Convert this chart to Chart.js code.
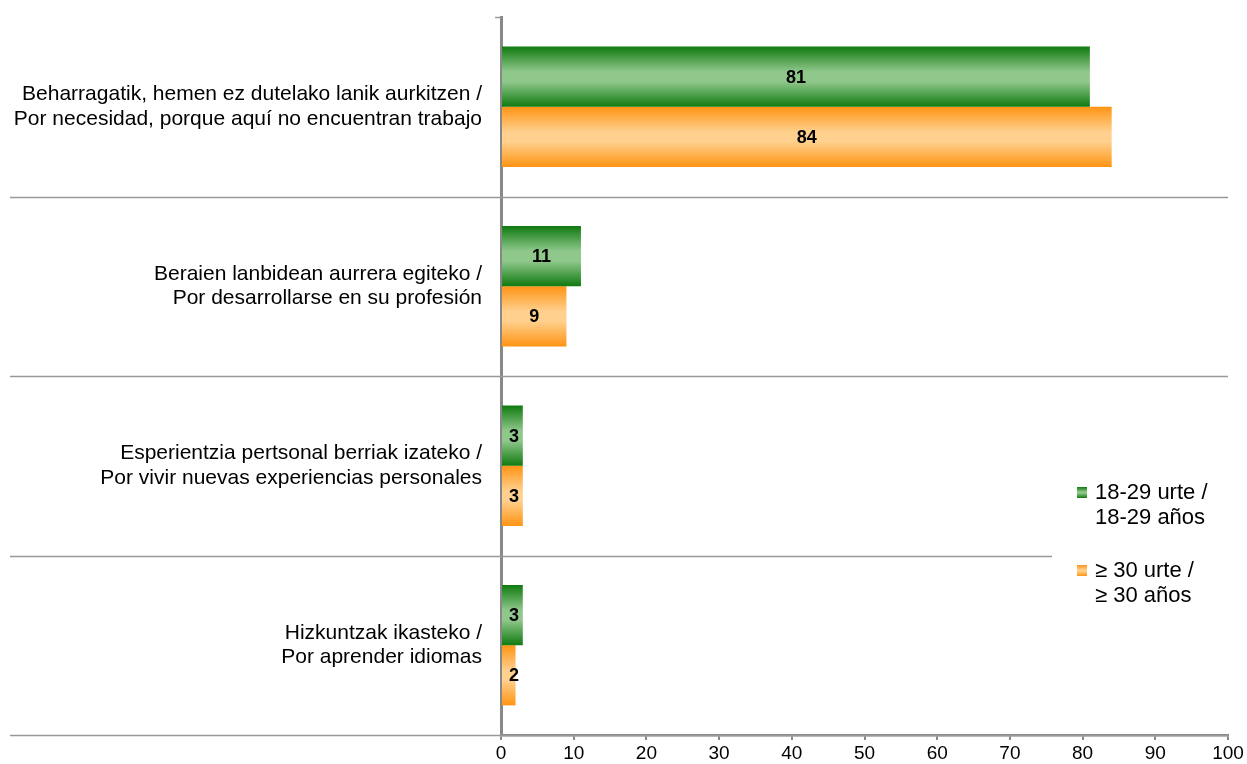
<!DOCTYPE html>
<html><head><meta charset="utf-8">
<script src="https://cdn.jsdelivr.net/npm/chart.js@4.4.1/dist/chart.umd.min.js"></script>
<style>
html,body{margin:0;padding:0;background:#fff;}
#wrap{position:relative;width:1247px;height:764px;}
#legend{position:absolute;left:1077px;top:479px;font-family:"Liberation Sans",Arial,sans-serif;font-size:22px;color:#000;line-height:25px;background:#fff;}
.item{position:relative;padding-left:18px;margin-bottom:28px;}
.sw{position:absolute;left:0;top:8px;width:10px;height:11px;}
</style></head>
<body><div id="wrap"><canvas id="c" width="1247" height="764"></canvas>
<div id="legend"></div></div>
<script>
const categories = [
  ["Beharragatik, hemen ez dutelako lanik aurkitzen /","Por necesidad, porque aquí no encuentran trabajo"],
  ["Beraien lanbidean aurrera egiteko /","Por desarrollarse en su profesión"],
  ["Esperientzia pertsonal berriak izateko /","Por vivir nuevas experiencias personales"],
  ["Hizkuntzak ikasteko /","Por aprender idiomas"]
];
const seriesNames = [["18-29 urte /","18-29 años"],["≥ 30 urte /","≥ 30 años"]];
const young = [81, 11, 3, 3];
const older = [84, 9, 3, 2];
const xTicks = [0,10,20,30,40,50,60,70,80,90,100];

const palettes = [
  {dark:'#107a10', light:'#90c88c'},
  {dark:'#ff9414', light:'#ffd08e'}
];
const CAT_PCT = 0.67;
const FONT = '"Liberation Sans", Arial, sans-serif';

function barGradient(ctx, dsIndex){
  const chart = ctx.chart;
  const y = chart.scales && chart.scales.y;
  const p = palettes[dsIndex];
  if(!y || !chart.chartArea || ctx.dataIndex === undefined) return p.light;
  const c = y.getPixelForValue(ctx.dataIndex);
  const w = Math.abs(y.getPixelForValue(1) - y.getPixelForValue(0)) * CAT_PCT / 2;
  const top = dsIndex === 0 ? c - w : c;
  const bot = top + w;
  const g = chart.ctx.createLinearGradient(0, top, 0, bot);
  g.addColorStop(0, p.dark);
  g.addColorStop(0.42, p.light);
  g.addColorStop(0.58, p.light);
  g.addColorStop(1, p.dark);
  return g;
}

const separators = {
  id:'separators',
  afterDraw(chart){
    const {ctx, chartArea, scales:{y}} = chart;
    ctx.save();
    ctx.strokeStyle = '#999';
    ctx.lineWidth = 1.5;
    const n = categories.length;
    for(let i=0;i<=n;i++){
      const yy = i===0 ? chartArea.top : (i===n ? chartArea.bottom : (y.getPixelForValue(i-1)+y.getPixelForValue(i))/2);
      let x0 = 10, x1 = chartArea.right;
      if(i===0){ x0 = chartArea.left - 6; x1 = chartArea.left; }
      if(i===3){ x1 = 1052; }
      ctx.beginPath(); ctx.moveTo(x0, Math.round(yy)+0.5); ctx.lineTo(x1, Math.round(yy)+0.5); ctx.stroke();
    }
    ctx.restore();
  }
};

const valueLabels = {
  id:'valueLabels',
  afterDatasetsDraw(chart){
    const ctx = chart.ctx;
    ctx.save();
    ctx.font = 'bold 18px ' + FONT;
    ctx.fillStyle = '#000';
    ctx.textAlign = 'center';
    ctx.textBaseline = 'middle';
    chart.data.datasets.forEach((ds, di)=>{
      chart.getDatasetMeta(di).data.forEach((el, i)=>{
        const cx = (el.x + el.base)/2;
        ctx.fillText(String(ds.data[i]), Math.max(cx, el.base+12), el.y+1);
      });
    });
    ctx.restore();
  }
};

new Chart(document.getElementById('c'), {
  type:'bar',
  data:{
    labels: categories,
    datasets:[
      {label: seriesNames[0].join(' '), data: young, backgroundColor: c=>barGradient(c,0), borderWidth:0, categoryPercentage:CAT_PCT, barPercentage:1},
      {label: seriesNames[1].join(' '), data: older, backgroundColor: c=>barGradient(c,1), borderWidth:0, categoryPercentage:CAT_PCT, barPercentage:1}
    ]
  },
  options:{
    indexAxis:'y',
    responsive:false,
    animation:false,
    layout:{padding:{left:0,right:19,top:17,bottom:0}},
    plugins:{legend:{display:false}, tooltip:{enabled:false}},
    scales:{
      x:{
        min:0, max:100,
        afterBuildTicks(s){ s.ticks = xTicks.map(v=>({value:v})); },
        afterFit(s){ s.height = 29; s.paddingLeft = 0; s.paddingRight = 0; },
        grid:{drawOnChartArea:false, drawTicks:true, tickLength:5, color:'#888', lineWidth:2},
        border:{display:true, color:'#888', width:2.5},
        ticks:{color:'#000', padding:2, font:{family:FONT, size:19}, maxRotation:0}
      },
      y:{
        afterFit(s){ s.width = 501; s.paddingTop = 0; s.paddingBottom = 0; },
        grid:{display:false},
        border:{display:true, color:'#888', width:3},
        ticks:{color:'#000', padding:11, font:{family:FONT, size:21, lineHeight:1.15}}
      }
    }
  },
  plugins:[separators, valueLabels]
});

const leg = document.getElementById('legend');
seriesNames.forEach((lines, i)=>{
  const d = document.createElement('div'); d.className='item';
  const sw = document.createElement('span'); sw.className='sw';
  sw.style.background = `linear-gradient(${palettes[i].dark}, ${palettes[i].light} 45%, ${palettes[i].light} 55%, ${palettes[i].dark})`;
  d.appendChild(sw);
  lines.forEach(t=>{ const l=document.createElement('div'); l.textContent=t; d.appendChild(l); });
  leg.appendChild(d);
});
</script></body></html>
